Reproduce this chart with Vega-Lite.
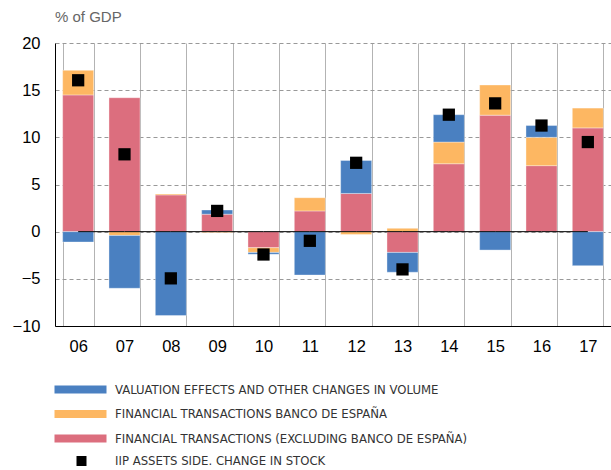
{
  "$schema": "https://vega.github.io/schema/vega-lite/v6.json",
  "width": 556,
  "height": 283,
  "autosize": {"type": "none"},
  "padding": {"left": 55, "top": 43, "right": 0, "bottom": 144},
  "config": {"view": {"stroke": null}, "font": "Liberation Sans"},
  "title": {"text": "% of GDP", "anchor": "start", "frame": "group", "fontSize": 15, "fontWeight": "normal", "color": "#666666", "offset": 10},
  "datasets": {
    "flows": [
      {"year": "06", "series": "FINANCIAL TRANSACTIONS (EXCLUDING BANCO DE ESPAÑA)", "value": 14.5},
      {"year": "06", "series": "FINANCIAL TRANSACTIONS BANCO DE ESPAÑA", "value": 2.6},
      {"year": "06", "series": "VALUATION EFFECTS AND OTHER CHANGES IN VOLUME", "value": -1.1},
      {"year": "07", "series": "FINANCIAL TRANSACTIONS (EXCLUDING BANCO DE ESPAÑA)", "value": 14.2},
      {"year": "07", "series": "FINANCIAL TRANSACTIONS BANCO DE ESPAÑA", "value": -0.4},
      {"year": "07", "series": "VALUATION EFFECTS AND OTHER CHANGES IN VOLUME", "value": -5.6},
      {"year": "08", "series": "FINANCIAL TRANSACTIONS (EXCLUDING BANCO DE ESPAÑA)", "value": 3.9},
      {"year": "08", "series": "FINANCIAL TRANSACTIONS BANCO DE ESPAÑA", "value": 0.1},
      {"year": "08", "series": "VALUATION EFFECTS AND OTHER CHANGES IN VOLUME", "value": -8.9},
      {"year": "09", "series": "FINANCIAL TRANSACTIONS (EXCLUDING BANCO DE ESPAÑA)", "value": 1.85},
      {"year": "09", "series": "FINANCIAL TRANSACTIONS BANCO DE ESPAÑA", "value": -0.1},
      {"year": "09", "series": "VALUATION EFFECTS AND OTHER CHANGES IN VOLUME", "value": 0.45},
      {"year": "10", "series": "FINANCIAL TRANSACTIONS (EXCLUDING BANCO DE ESPAÑA)", "value": -1.7},
      {"year": "10", "series": "FINANCIAL TRANSACTIONS BANCO DE ESPAÑA", "value": -0.5},
      {"year": "10", "series": "VALUATION EFFECTS AND OTHER CHANGES IN VOLUME", "value": -0.2},
      {"year": "11", "series": "FINANCIAL TRANSACTIONS (EXCLUDING BANCO DE ESPAÑA)", "value": 2.2},
      {"year": "11", "series": "FINANCIAL TRANSACTIONS BANCO DE ESPAÑA", "value": 1.4},
      {"year": "11", "series": "VALUATION EFFECTS AND OTHER CHANGES IN VOLUME", "value": -4.6},
      {"year": "12", "series": "FINANCIAL TRANSACTIONS (EXCLUDING BANCO DE ESPAÑA)", "value": 4.05},
      {"year": "12", "series": "FINANCIAL TRANSACTIONS BANCO DE ESPAÑA", "value": -0.3},
      {"year": "12", "series": "VALUATION EFFECTS AND OTHER CHANGES IN VOLUME", "value": 3.5},
      {"year": "13", "series": "FINANCIAL TRANSACTIONS (EXCLUDING BANCO DE ESPAÑA)", "value": -2.2},
      {"year": "13", "series": "FINANCIAL TRANSACTIONS BANCO DE ESPAÑA", "value": 0.35},
      {"year": "13", "series": "VALUATION EFFECTS AND OTHER CHANGES IN VOLUME", "value": -2.1},
      {"year": "14", "series": "FINANCIAL TRANSACTIONS (EXCLUDING BANCO DE ESPAÑA)", "value": 7.2},
      {"year": "14", "series": "FINANCIAL TRANSACTIONS BANCO DE ESPAÑA", "value": 2.3},
      {"year": "14", "series": "VALUATION EFFECTS AND OTHER CHANGES IN VOLUME", "value": 2.9},
      {"year": "15", "series": "FINANCIAL TRANSACTIONS (EXCLUDING BANCO DE ESPAÑA)", "value": 12.35},
      {"year": "15", "series": "FINANCIAL TRANSACTIONS BANCO DE ESPAÑA", "value": 3.2},
      {"year": "15", "series": "VALUATION EFFECTS AND OTHER CHANGES IN VOLUME", "value": -1.95},
      {"year": "16", "series": "FINANCIAL TRANSACTIONS (EXCLUDING BANCO DE ESPAÑA)", "value": 7.0},
      {"year": "16", "series": "FINANCIAL TRANSACTIONS BANCO DE ESPAÑA", "value": 3.0},
      {"year": "16", "series": "VALUATION EFFECTS AND OTHER CHANGES IN VOLUME", "value": 1.25},
      {"year": "17", "series": "FINANCIAL TRANSACTIONS (EXCLUDING BANCO DE ESPAÑA)", "value": 11.0},
      {"year": "17", "series": "FINANCIAL TRANSACTIONS BANCO DE ESPAÑA", "value": 2.1},
      {"year": "17", "series": "VALUATION EFFECTS AND OTHER CHANGES IN VOLUME", "value": -3.6}
    ],
    "stock": [
      {"year": "06", "value": 16.05},
      {"year": "07", "value": 8.2},
      {"year": "08", "value": -4.95},
      {"year": "09", "value": 2.2},
      {"year": "10", "value": -2.42},
      {"year": "11", "value": -0.97},
      {"year": "12", "value": 7.3},
      {"year": "13", "value": -4.0},
      {"year": "14", "value": 12.4},
      {"year": "15", "value": 13.6},
      {"year": "16", "value": 11.25},
      {"year": "17", "value": 9.5}
    ]
  },
  "layer": [
    {
      "data": {"name": "flows"},
      "mark": {"type": "bar", "stroke": "#ffffff", "strokeWidth": 0.6, "strokeOpacity": 0.6},
      "encoding": {
        "x": {
          "field": "year", "type": "nominal",
          "scale": {"paddingInner": 0.33, "paddingOuter": 0.165},
          "axis": {"title": null, "labelAngle": 0, "labelFontSize": 16.5, "labelColor": "#000000", "labelPadding": 12, "ticks": false, "domainColor": "#000000", "grid": true, "gridColor": "#b3b3b3", "tickBand": "extent"}
        },
        "y": {
          "field": "value", "type": "quantitative", "stack": "zero",
          "scale": {"domain": [-10, 20]},
          "axis": {"title": null, "values": [-10, -5, 0, 5, 10, 15, 20], "labelFontSize": 16.5, "labelColor": "#000000", "labelPadding": 15, "ticks": false, "domainColor": "#000000", "grid": true, "gridColor": "#999999", "gridDash": [4, 3]}
        },
        "color": {
          "field": "series", "type": "nominal",
          "scale": {
            "domain": ["VALUATION EFFECTS AND OTHER CHANGES IN VOLUME", "FINANCIAL TRANSACTIONS BANCO DE ESPAÑA", "FINANCIAL TRANSACTIONS (EXCLUDING BANCO DE ESPAÑA)"],
            "range": ["#4a80c1", "#fdb762", "#dc6e7e"]
          },
          "legend": {"orient": "none", "legendX": 19, "legendY": 340, "title": null, "padding": 0, "symbolType": "M-6.5,-1H6.5V1H-6.5Z", "symbolSize": 64, "symbolStrokeWidth": 0, "labelFont": "Liberation Sans Narrow, DejaVu Sans Condensed, sans-serif", "labelFontSize": 13, "labelColor": "#333333", "labelOffset": 28, "rowPadding": 10.5, "labelLimit": 0}
        },
        "order": {"field": "series", "sort": "ascending"}
      }
    },
    {
      "data": {"name": "stock"},
      "mark": {"type": "line", "color": "#000000", "strokeWidth": 1},
      "encoding": {"x": {"field": "year", "type": "nominal"}, "y": {"datum": 0}}
    },
    {
      "data": {"name": "stock"},
      "mark": {"type": "point", "shape": "square", "filled": true, "size": 150, "color": "#000000", "opacity": 1},
      "encoding": {
        "x": {"field": "year", "type": "nominal"},
        "y": {"field": "value", "type": "quantitative"},
        "shape": {
          "datum": "IIP ASSETS SIDE. CHANGE IN STOCK",
          "scale": {"range": ["square"]},
          "legend": {"orient": "none", "legendX": 20, "legendY": 411.5, "title": null, "padding": 0, "symbolSize": 100, "symbolFillColor": "#000000", "symbolStrokeWidth": 0, "labelFont": "Liberation Sans Narrow, DejaVu Sans Condensed, sans-serif", "labelFontSize": 13, "labelColor": "#333333", "labelOffset": 27, "labelLimit": 0}
        }
      }
    }
  ]
}
